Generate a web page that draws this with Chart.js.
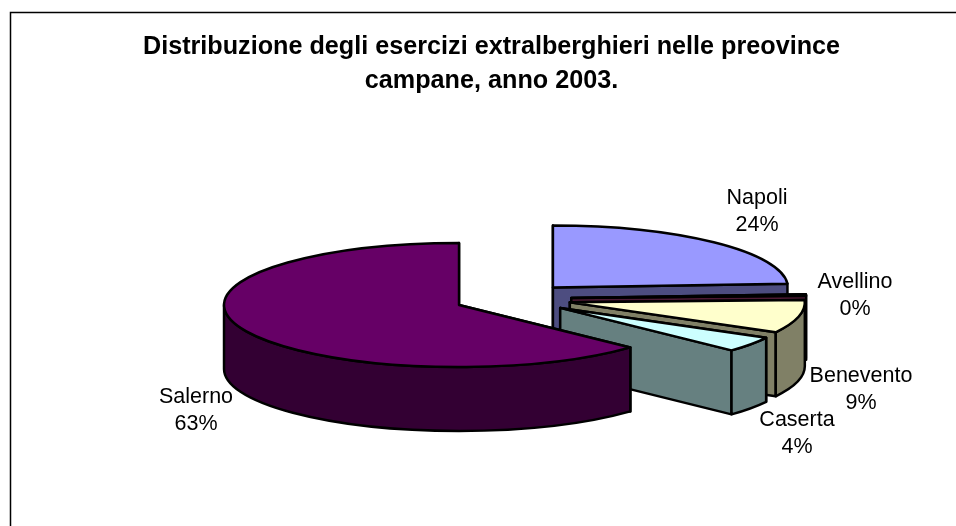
<!DOCTYPE html>
<html><head><meta charset="utf-8">
<style>html,body{margin:0;padding:0;background:#fff;overflow:hidden}#wrap{position:absolute;left:0;top:0;width:956px;height:526px}</style>
<script src="https://cdn.jsdelivr.net/npm/chart.js@4"></script>
</head><body><div id="wrap"><canvas id="c" width="956" height="526"></canvas></div>
<script>
const categories = ['Napoli','Avellino','Benevento','Caserta','Salerno'];
const values = [24, 0.4, 8.6, 4, 63];
const topColors = ['#9999ff','#993366','#ffffcc','#ccffff','#660066'];
const sideColors = ['#4d4d80','#4d1a33','#808066','#668080','#330033'];
const titleLines = ['Distribuzione degli esercizi extralberghieri nelle preovince','campane, anno 2003.'];
const labelPos = [[757,211],[855,295],[861,389],[797,433],[196,410]];

const RADIUS = 235, EXPLODE = 58.6, SQUASH = 0.264, DEPTH = 64, CX = 512.8, CY = 298.8, LINE = 2.5;

const pie3d = {
  id:'pie3d',
  beforeDatasetDraw(chart,args){
    const ctx = chart.ctx;
    args.meta.data.forEach((arc,i)=>{
      const p = arc.getProps(['x','y','startAngle','endAngle','outerRadius']);
      const mid = (p.startAngle+p.endAngle)/2;
      const r = p.outerRadius, ry = r*SQUASH;
      const ox = CX + Math.cos(mid)*EXPLODE, oy = CY + Math.sin(mid)*EXPLODE*SQUASH;
      const pt = a=>[ox+Math.cos(a)*r, oy+Math.sin(a)*ry];
      ctx.save();
      ctx.lineWidth = LINE; ctx.strokeStyle='#000'; ctx.lineJoin='round';
      ctx.fillStyle = sideColors[i];
      [p.startAngle,p.endAngle].forEach(a=>{
        const e = pt(a);
        ctx.beginPath(); ctx.moveTo(ox,oy); ctx.lineTo(e[0],e[1]); ctx.lineTo(e[0],e[1]+DEPTH); ctx.lineTo(ox,oy+DEPTH); ctx.closePath();
        ctx.fill(); ctx.stroke();
      });
      const from = Math.max(p.startAngle,0), to = Math.min(p.endAngle,Math.PI);
      if (to > from) {
        const s = pt(from), e = pt(to);
        ctx.beginPath();
        ctx.moveTo(s[0],s[1]);
        ctx.ellipse(ox,oy,r,ry,0,from,to,false);
        ctx.lineTo(e[0],e[1]+DEPTH);
        ctx.ellipse(ox,oy+DEPTH,r,ry,0,to,from,true);
        ctx.closePath();
        ctx.fill(); ctx.stroke();
      }
      ctx.restore();
      // top face through the library's own arc element
      ctx.save();
      ctx.translate(ox,oy); ctx.scale(1,SQUASH); ctx.translate(-p.x,-p.y);
      arc.draw(ctx, chart.chartArea);
      ctx.restore();
      // outline at even stroke width
      ctx.save();
      ctx.beginPath();
      ctx.moveTo(ox,oy);
      ctx.ellipse(ox,oy,r,ry,0,p.startAngle,p.endAngle,false);
      ctx.closePath();
      ctx.lineWidth=LINE; ctx.strokeStyle='#000'; ctx.lineJoin='round'; ctx.stroke();
      ctx.restore();
    });
    return false;
  },
  afterDraw(chart){
    const ctx = chart.ctx;
    ctx.save();
    ctx.strokeStyle='#000'; ctx.lineWidth=1.5;
    ctx.beginPath(); ctx.moveTo(10.5,526); ctx.lineTo(10.5,12.5); ctx.lineTo(956,12.5); ctx.stroke();
    ctx.fillStyle='#000'; ctx.font='21.5px "Liberation Sans"'; ctx.textAlign='center'; ctx.textBaseline='alphabetic';
    const total = values.reduce((a,b)=>a+b,0);
    categories.forEach((c,i)=>{
      const [x,y]=labelPos[i];
      ctx.fillText(c,x,y-7);
      ctx.fillText(Math.round(values[i]/total*100)+'%',x,y+20);
    });
    ctx.font='bold 25.2px "Liberation Sans"';
    ctx.fillText(titleLines[0],491.5,54);
    ctx.fillText(titleLines[1],491.5,88);
    ctx.restore();
  }
};

new Chart(document.getElementById('c'),{
  type:'pie',
  data:{labels:categories,datasets:[{data:values,backgroundColor:topColors,borderWidth:0,radius:RADIUS,clip:false}]},
  options:{responsive:false,animation:false,radius:RADIUS,plugins:{legend:{display:false},tooltip:{enabled:false},title:{display:false}}},
  plugins:[pie3d]
});
</script></body></html>
